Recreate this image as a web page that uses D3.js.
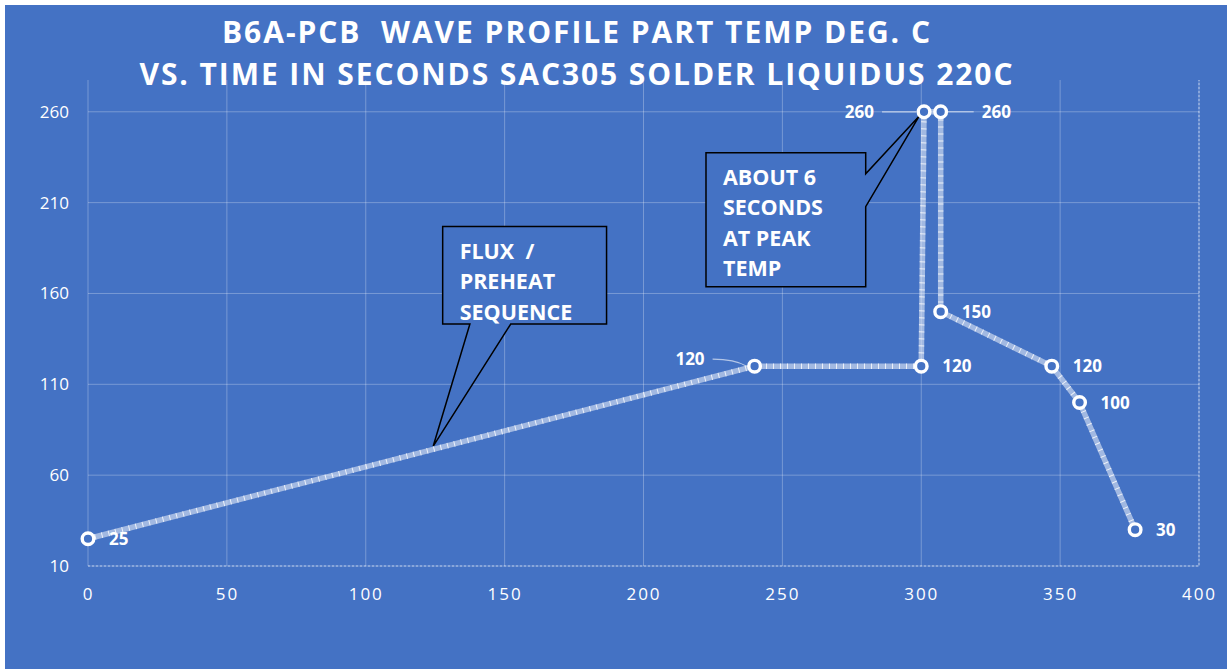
<!DOCTYPE html>
<html>
<head>
<meta charset="utf-8">
<script src="https://cdn.jsdelivr.net/npm/d3@7"></script>
<style>
  html, body { margin: 0; padding: 0; background: #fff; }
  svg { display: block; }
  text { font-family: 'Open Sans', 'Noto Sans', sans-serif; fill: #fff; white-space: pre; }
</style>
</head>
<body>
<svg id="chart" width="1227" height="669"></svg>
<script>
// profile points: time in seconds, part temp deg. C
var times = [0, 240, 300, 301, 307, 307, 347, 357, 377]
var temps = [25, 120, 120, 260, 260, 150, 120, 100, 30]
// which side of the marker each data label sits on, and whether it has a leader line
var labelSide = ['r', 'l', 'r', 'l', 'r', 'r', 'r', 'r', 'r']
var labelLeader = [false, true, false, true, true, false, false, false, false]

var xTicks = [0, 50, 100, 150, 200, 250, 300, 350, 400]
var yTicks = [10, 60, 110, 160, 210, 260]

var titleLines = [
  'B6A-PCB  WAVE PROFILE PART TEMP DEG. C',
  'VS. TIME IN SECONDS SAC305 SOLDER LIQUIDUS 220C'
]

// callout texts
var fluxText = ['FLUX  /', 'PREHEAT', 'SEQUENCE']
var peakText = ['ABOUT 6', 'SECONDS', 'AT PEAK', 'TEMP']

;(function () {
  var blue = '#4472C4'
  var svg = d3.select('#chart')

  svg.append('rect')
      .attr('x', 5).attr('y', 5)
      .attr('width', 1222).attr('height', 664)
      .attr('fill', blue)

  var mapx = d3.scaleLinear().domain([0, 400]).range([88, 1199])
  var mapy = d3.scaleLinear().domain([10, 277.5]).range([566, 80])

  var data = times.map((t, i) => ({t: t, v: temps[i], side: labelSide[i], leader: labelLeader[i]}))

  /*
      --------------------------------------
      Title
  */
  var titleW = [708, 873]
  svg.selectAll('.title')
      .data(titleLines)
      .enter()
      .append('text')
      .classed('title', true)
      .attr('x', 576)
      .attr('y', (d, i) => 43 + i * 42)
      .attr('text-anchor', 'middle')
      .attr('textLength', (d, i) => titleW[i])
      .attr('lengthAdjust', 'spacing')
      .style('font-size', '30px')
      .style('font-weight', 700)
      .text(d => d)

  /*
      --------------------------------------
      Grid
  */
  var grid = svg.append('g').classed('grid', true)
      .attr('stroke', 'rgba(255,255,255,0.28)')
      .attr('stroke-width', 1)

  grid.selectAll('.gx')
      .data(xTicks)
      .enter()
      .append('line')
      .attr('x1', d => mapx(d)).attr('x2', d => mapx(d))
      .attr('y1', mapy(10)).attr('y2', mapy(277.5))

  grid.selectAll('.gy')
      .data(yTicks)
      .enter()
      .append('line')
      .attr('x1', mapx(0)).attr('x2', mapx(400))
      .attr('y1', d => mapy(d)).attr('y2', d => mapy(d))

  // dashed plot border at bottom and right
  svg.append('path')
      .attr('d', `M${mapx(0)},${mapy(10)} H${mapx(400)} V${mapy(277.5)}`)
      .attr('fill', 'none')
      .attr('stroke', 'rgba(255,255,255,0.55)')
      .attr('stroke-dasharray', '2 2')

  /*
      --------------------------------------
      Axes
  */
  var xAxis = d3.axisBottom(mapx).tickValues(xTicks).tickSize(0).tickPadding(22)
  var gx = svg.append('g')
      .attr('transform', `translate(0,${mapy(10)})`)
      .call(xAxis)
  gx.select('.domain').remove()
  gx.selectAll('text')
      .attr('fill', '#fff')
      .style('font-size', '17px')
      .style('letter-spacing', '2px')
      .style('font-family', "'Open Sans', sans-serif")

  var yAxis = d3.axisLeft(mapy).tickValues(yTicks).tickSize(0).tickPadding(19)
  var gy = svg.append('g')
      .attr('transform', `translate(${mapx(0)},0)`)
      .call(yAxis)
  gy.select('.domain').remove()
  gy.selectAll('text')
      .attr('fill', '#fff')
      .style('font-size', '17px')
      .style('font-family', "'Open Sans', sans-serif")

  /*
      --------------------------------------
      Callouts (box and tip given in data units)
  */
  function callout (box, tip, pointer, lines) {
    var x0 = mapx(box[0]), x1 = mapx(box[1])
    var y0 = mapy(box[2]), y1 = mapy(box[3])
    var tx = mapx(tip[0]), ty = mapy(tip[1])
    var d
    if (pointer.edge === 'bottom') {
      d = `M${x0},${y0} H${x1} V${y1} H${mapx(pointer.a[1])} L${tx},${ty} L${mapx(pointer.a[0])},${y1} H${x0} Z`
    } else {
      d = `M${x0},${y0} H${x1} V${mapy(pointer.a[0])} L${tx},${ty} L${x1},${mapy(pointer.a[1])} V${y1} H${x0} Z`
    }
    var g = svg.append('g').classed('callout', true)
    g.append('path')
        .attr('d', d)
        .attr('fill', blue)
        .attr('stroke', '#000')
        .attr('stroke-width', 1.5)
    g.selectAll('text')
        .data(lines)
        .enter()
        .append('text')
        .attr('x', x0 + 17)
        .attr('y', (d, i) => y0 + 32 + i * 30.5)
        .style('font-size', '21.5px')
        .style('font-weight', 700)
        .text(d => d)
  }

  callout([127.7, 186.7, 196.8, 143.2], [124.3, 76], {edge: 'bottom', a: [137.5, 152.2]}, fluxText)
  callout([222.5, 280, 237.5, 163.7], [299.3, 257.7], {edge: 'right', a: [225.9, 207.8]}, peakText)

  /*
      --------------------------------------
      Profile line
  */
  var line = d3.line()
      .x(d => mapx(d.t))
      .y(d => mapy(d.v))

  svg.append('path')
      .datum(data)
      .attr('d', line)
      .attr('fill', 'none')
      .attr('stroke', 'rgba(255,255,255,0.5)')
      .attr('stroke-width', 5.5)
      .attr('stroke-linejoin', 'round')

  svg.append('path')
      .datum(data)
      .attr('d', line)
      .attr('fill', 'none')
      .attr('stroke', 'rgba(255,255,255,0.8)')
      .attr('stroke-width', 5.5)
      .attr('stroke-dasharray', '1 6')

  /*
      --------------------------------------
      Leader lines, markers and labels
  */
  var lift = d => (d.side === 'l' && d.v < 200) ? -7 : 0

  var leaders = svg.append('g')
      .attr('stroke', 'rgba(255,255,255,0.6)')
      .attr('stroke-width', 1.2)
      .attr('fill', 'none')

  leaders.selectAll('path')
      .data(data.filter(d => d.leader))
      .enter()
      .append('path')
      .attr('d', d => {
        var px = mapx(d.t), py = mapy(d.v)
        if (d.side === 'l') {
          return `M${px - 42},${py + lift(d)} Q${px - 20},${py + lift(d)} ${px - 8},${py}`
        }
        return `M${px + 7},${py} H${px + 33}`
      })

  svg.selectAll('.marker')
      .data(data)
      .enter()
      .append('circle')
      .classed('marker', true)
      .attr('cx', d => mapx(d.t))
      .attr('cy', d => mapy(d.v))
      .attr('r', 5.8)
      .attr('fill', blue)
      .attr('stroke', '#fff')
      .attr('stroke-width', 3.4)

  svg.selectAll('.dlabel')
      .data(data)
      .enter()
      .append('text')
      .classed('dlabel', true)
      .attr('x', d => {
        var px = mapx(d.t)
        if (d.side === 'l') return px - 50
        return d.leader ? px + 41 : px + 21
      })
      .attr('y', d => mapy(d.v) + lift(d))
      .attr('dy', '0.36em')
      .attr('text-anchor', d => d.side === 'l' ? 'end' : 'start')
      .style('font-size', '17px')
      .style('font-weight', 700)
      .text(d => d.v)
})()
</script>
</body>
</html>
